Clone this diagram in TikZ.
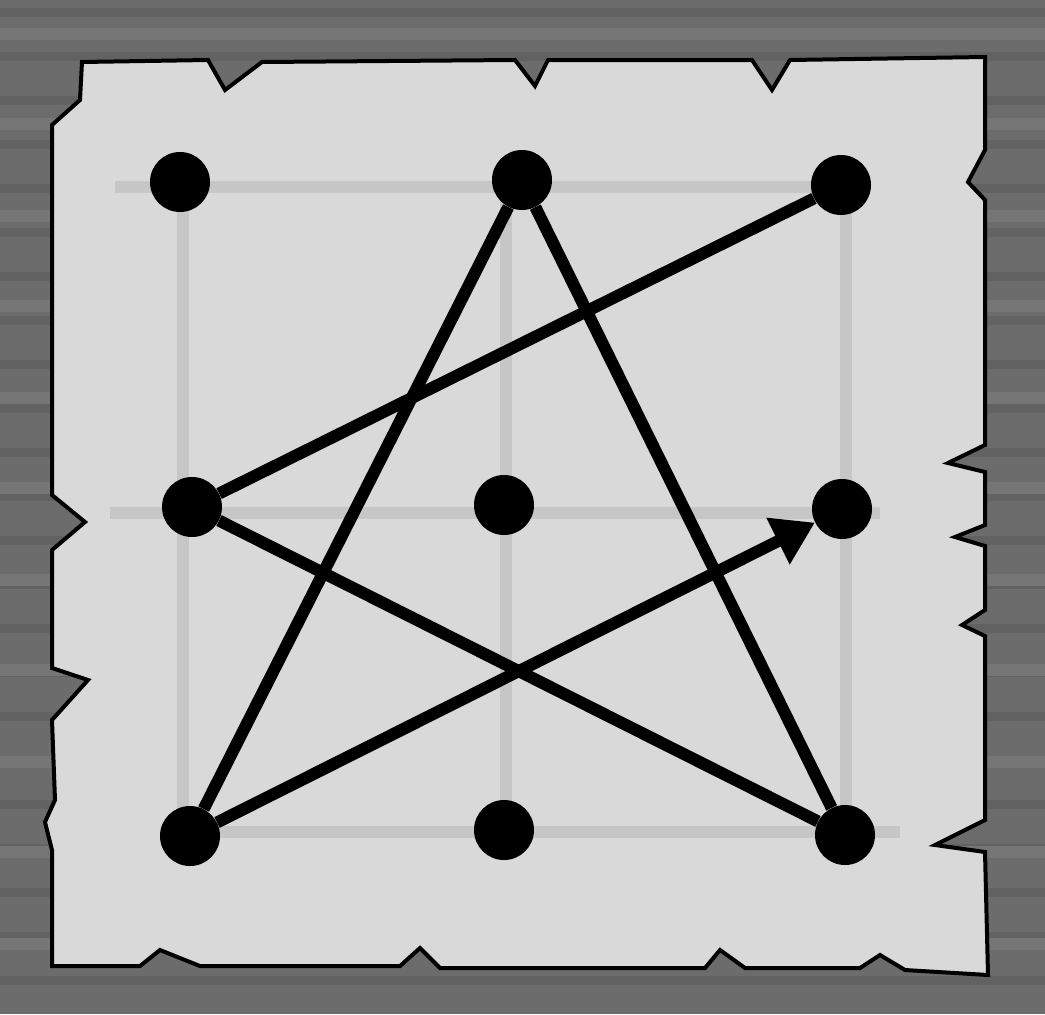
\documentclass[tikz,border=0pt]{standalone}
\usepackage{amsmath}
\usepackage{tikz}
\usetikzlibrary{arrows.meta}

\definecolor{wood}{HTML}{6C6C6C}
\definecolor{wooddark}{HTML}{626262}
\definecolor{woodlight}{HTML}{767676}
\definecolor{paper}{HTML}{D9D9D9}
\definecolor{gridgray}{HTML}{C6C6C6}

\tikzset{
  dot/.style={circle,fill=black,inner sep=0pt,minimum size=45pt},
  stroke/.style={line width=9pt,black},
  gridline/.style={line width=9pt,gridgray},
}

\begin{document}
\begin{tikzpicture}[x=0.75pt,y=0.75pt,yscale=-1,xscale=1]
\useasboundingbox (0,0) rectangle (1045,1014);

%Shape: Rectangle - wood background
\fill[wood] (0,0) rectangle (1045,1014);
\foreach \y in {8,52,96,140,184,228,272,316,360,404,448,492,536,580,624,668,712,756,800,844,888,932,976}
  \fill[wooddark] (0,\y) rectangle (1045,\y+9);
\foreach \y in {28,118,210,300,392,482,574,664,756,846,938}
  \fill[woodlight] (0,\y) rectangle (1045,\y+12);

%Shape: Polygon - torn paper
\filldraw[fill=paper,draw=black,line width=3pt,line join=miter]
  (82,62) -- (208,60) -- (225,90) -- (262,62) -- (515,60) -- (535,86) -- (548,60)
  -- (752,60) -- (772,90) -- (790,60) -- (985,57)
  -- (985,150) -- (968,182) -- (985,200) -- (985,445) -- (948,463) -- (985,472)
  -- (985,525) -- (955,537) -- (985,546) -- (985,610) -- (962,625) -- (985,636)
  -- (985,820) -- (935,845) -- (985,852) -- (988,975)
  -- (905,970) -- (880,955) -- (860,968) -- (745,968) -- (720,950) -- (705,968)
  -- (440,968) -- (420,948) -- (400,966) -- (200,966) -- (160,950) -- (140,966)
  -- (52,966) -- (52,850) -- (45,822) -- (55,800) -- (52,720) -- (88,680) -- (52,668)
  -- (52,550) -- (85,522) -- (52,495) -- (52,125) -- (80,100) -- cycle;

%Straight Lines - faint grid
\draw[gridline] (115,187) -- (840,187);
\draw[gridline] (110,513) -- (880,513);
\draw[gridline] (190,832) -- (900,832);
\draw[gridline] (183,180) -- (183,835);
\draw[gridline] (506,180) -- (506,830);
\draw[gridline] (846,185) -- (846,835);

%Shape: Circles - dots
\node[dot] (tl) at (180,182) {};
\node[dot] (tm) at (522,180) {};
\node[dot] (tr) at (841,185) {};
\node[dot] (ml) at (192,507) {};
\node[dot] (mm) at (504,505) {};
\node[dot] (mr) at (842,509) {};
\node[dot] (bl) at (190,836) {};
\node[dot] (bm) at (504,830) {};
\node[dot] (br) at (845,835) {};

%Straight Lines - the path
\draw[stroke] (tr) -- (ml);
\draw[stroke] (ml) -- (br);
\draw[stroke] (br) -- (tm);
\draw[stroke] (tm) -- (bl);
\draw[stroke,-{Triangle[length=31pt,width=37pt]}] (bl) -- (mr);

\end{tikzpicture}
\end{document}
